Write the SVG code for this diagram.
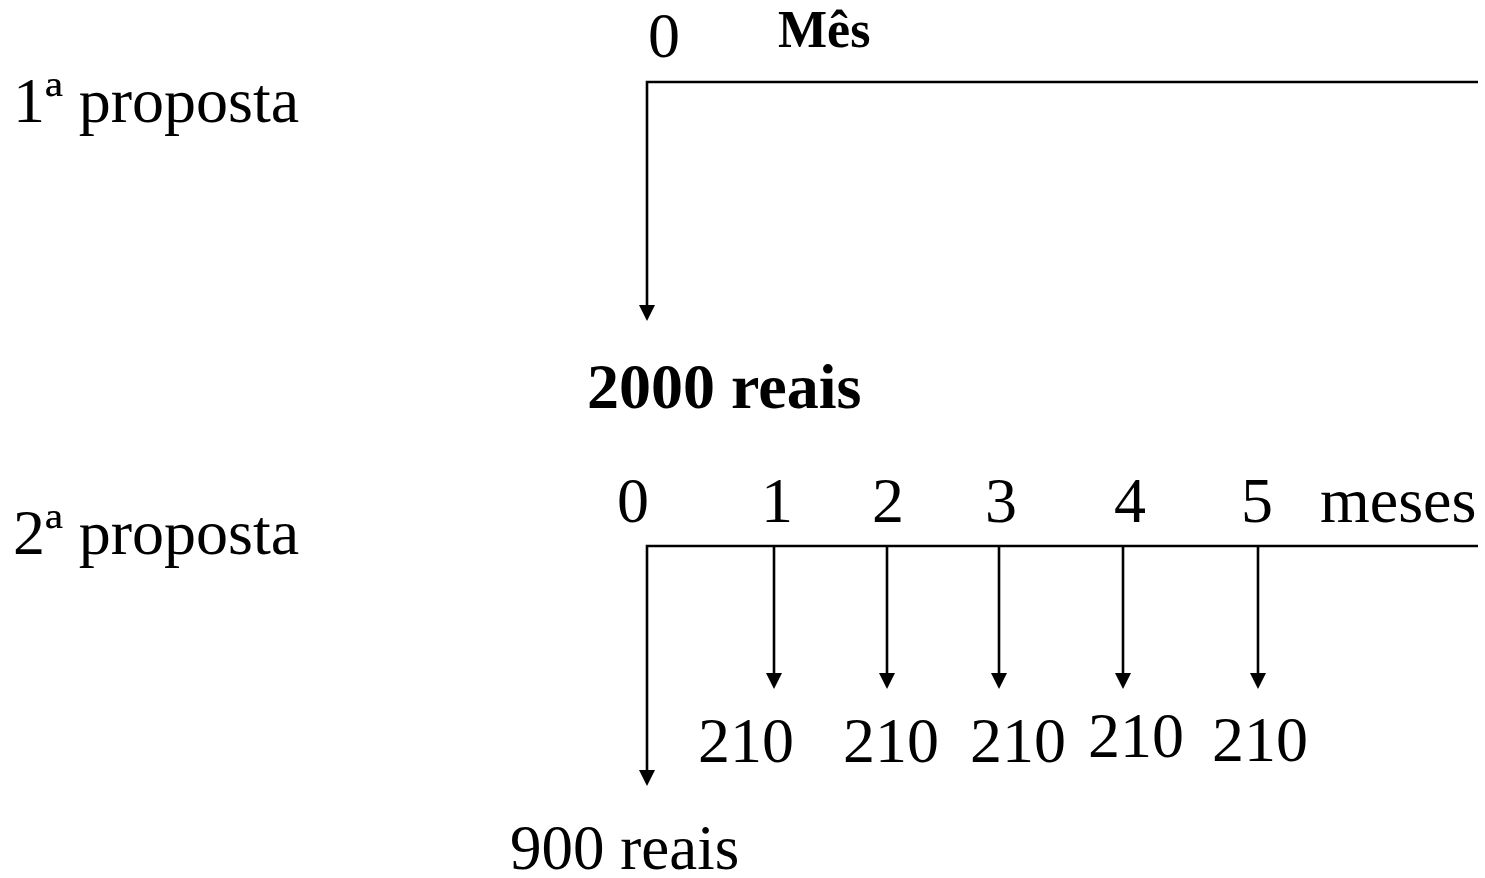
<svg xmlns="http://www.w3.org/2000/svg" width="1485" height="878" viewBox="0 0 1485 878">
<style>
text{font-family:"Liberation Serif","Times New Roman",serif;font-size:64px;fill:#000}
.b{font-weight:bold}
.ln{stroke:#000;stroke-width:2.6;fill:none}
.ah{fill:#000}
</style>
<rect width="1485" height="878" fill="#fff"/>
<g id="labels1">
<text x="13" y="122">1ª proposta</text>
<text x="648" y="57">0</text>
<text class="b" x="778" y="47" style="font-size:52px">Mês</text>
<text class="b" x="587" y="408">2000 reais</text>
</g>
<g id="labels2">
<text x="13" y="554">2ª proposta</text>
<text x="617" y="522">0</text>
<text x="777" y="522" text-anchor="middle">1</text>
<text x="888" y="522" text-anchor="middle">2</text>
<text x="1001" y="522" text-anchor="middle">3</text>
<text x="1130" y="522" text-anchor="middle">4</text>
<text x="1257" y="522" text-anchor="middle">5</text>
<text x="1320" y="522">meses</text>
<text x="698" y="762">210</text>
<text x="843" y="762">210</text>
<text x="970" y="762">210</text>
<text x="1088" y="757">210</text>
<text x="1212" y="761">210</text>
<text x="510" y="869" style="font-size:63px">900 reais</text>
</g>
<g id="connectors">
<path class="ln" d="M1478 82H647V306"/>
<polygon class="ah" points="639,305 655,305 647,321"/>
<path class="ln" d="M1478 546H647V771"/>
<polygon class="ah" points="639,770 655,770 647,786"/>
<path class="ln" d="M774 546V674M887 546V674M999 546V674M1123 546V674M1258 546V674"/>
<polygon class="ah" points="766,673 782,673 774,689"/>
<polygon class="ah" points="879,673 895,673 887,689"/>
<polygon class="ah" points="991,673 1007,673 999,689"/>
<polygon class="ah" points="1115,673 1131,673 1123,689"/>
<polygon class="ah" points="1250,673 1266,673 1258,689"/>
</g>
</svg>
